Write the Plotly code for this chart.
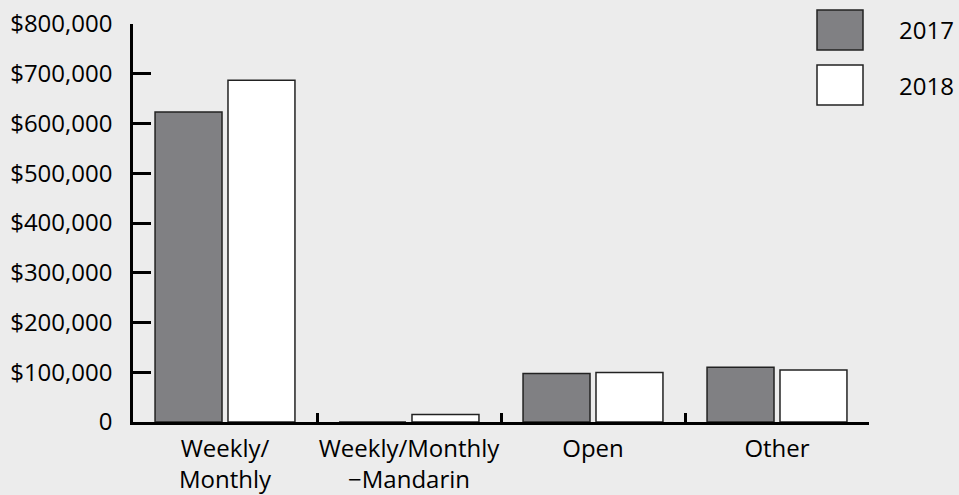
import plotly.graph_objects as go

categories = ["Weekly/<br>Monthly", "Weekly/Monthly<br>−Mandarin", "Open", "Other"]
series_names = ["2017", "2018"]
values_2017 = [623000, 0, 97700, 109800]
values_2018 = [687000, 15300, 99700, 104500]
y_ticks = [0, 100000, 200000, 300000, 400000, 500000, 600000, 700000, 800000]
y_tick_labels = ["0", "$100,000", "$200,000", "$300,000", "$400,000",
                 "$500,000", "$600,000", "$700,000", "$800,000"]

colors = ["#808083", "#ffffff"]
FONT = "Open Sans"
FS = 24
W, H = 959, 495
ML, MR, MT, MB = 133, 90, 24, 73

fig = go.Figure()
for name, vals, c in zip(series_names, [values_2017, values_2018], colors):
    fig.add_trace(go.Bar(x=categories, y=vals, name=name,
                         marker=dict(color=c, line=dict(color="#222222", width=1.5))))

fig.update_layout(
    width=W, height=H,
    margin=dict(l=ML, r=MR, t=MT, b=MB, autoexpand=False),
    paper_bgcolor="#ececec", plot_bgcolor="#ececec",
    barmode="group", bargap=0.207, bargroupgap=0.082,
    showlegend=False,
    font=dict(family=FONT, size=FS, color="#000000"),
)
fig.update_xaxes(showline=True, linecolor="black", linewidth=2.5,
                 ticks="inside", tickson="boundaries", ticklen=9, tickwidth=2.5, tickcolor="black",
                 showgrid=False, zeroline=False, tickfont=dict(size=FS), ticklabelstandoff=3,
                 tickangle=0, automargin=False)
fig.update_yaxes(range=[0, 800000], tickvals=y_ticks, ticktext=y_tick_labels,
                 showline=True, linecolor="black", linewidth=2.5,
                 ticks="inside", ticklen=18, tickwidth=2.5, tickcolor="black",
                 showgrid=False, zeroline=False, ticklabelstandoff=13, tickfont=dict(size=FS),
                 automargin=False)

# legend drawn as boxes + text
pw = W - ML - MR
ph = H - MT - MB
def px_x(x): return (x - ML) / pw
def px_y(y): return (H - MB - y) / ph
legend_rows = [(10, 50), (65, 105)]
for name, c, (y0, y1) in zip(series_names, colors, legend_rows):
    fig.add_shape(type="rect", xref="paper", yref="paper",
                  x0=px_x(817), x1=px_x(863), y0=px_y(y1), y1=px_y(y0),
                  fillcolor=c, line=dict(color="#222222", width=1.5))
    fig.add_annotation(xref="paper", yref="paper", x=px_x(897), y=px_y((y0 + y1) / 2),
                       text=name, showarrow=False, xanchor="left", yanchor="middle",
                       font=dict(size=FS, family=FONT, color="#000000"))

fig.write_html("out.html", config={"displayModeBar": False},
               post_script="document.body.style.margin='0';document.body.style.background='#ececec';")
